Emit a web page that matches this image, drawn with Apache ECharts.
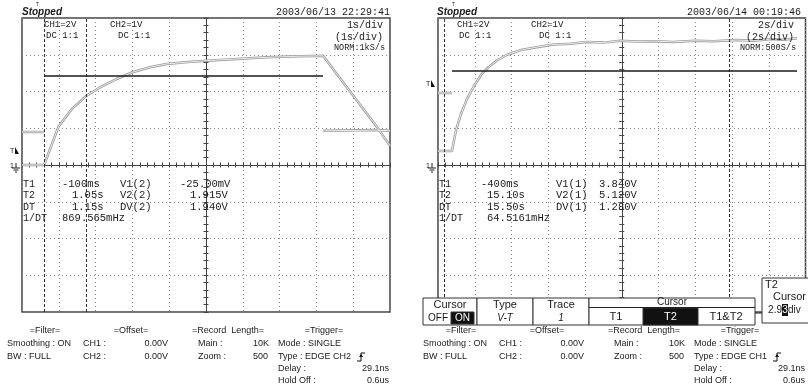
<!DOCTYPE html>
<html>
<head>
<meta charset="utf-8">
<script src="https://cdn.jsdelivr.net/npm/echarts@6/dist/echarts.min.js"></script>
<style>
html,body{margin:0;padding:0;background:#fff}
#main{width:808px;height:384px}
</style>
</head>
<body>
<div id="main"></div>
<script>
// screen units: x = divisions from centre (-5..5), y = divisions (-4..4)
const leftCurve = [[-5,0],[-4.4,0],[-4.01,1.04],[-3.65,1.52],[-3.24,1.89],[-2.88,2.11],[-2.43,2.34],[-1.98,2.53],[-1.52,2.66],[-1.07,2.75],[-0.5,2.8],[0.02,2.84],[0.73,2.88],[1.65,2.93],[2.55,2.96],[3.18,2.97],[4.65,1.03],[5,0.52]]
const leftPulseLowA = [[-5,0.9],[-4.4,0.9]]
const leftPulseLowB = [[3.18,0.93],[4.6,0.95],[5,0.93]]
const leftPulseHigh = [[-4.4,2.42],[3.18,2.42]]
const leftCursors = [-4.4, -3.25]

const rightCurve = [[-5,0.38],[-4.62,0.38],[-4.51,0.95],[-4.37,1.4],[-4.21,1.8],[-4.02,2.15],[-3.83,2.45],[-3.64,2.65],[-3.39,2.85],[-3.12,3.0],[-2.77,3.12],[-2.36,3.2],[-1.84,3.28],[-1.4,3.3],[-0.95,3.35],[-0.5,3.33],[-0.03,3.38],[0.4,3.36],[0.88,3.37],[1.4,3.35],[2.0,3.38],[2.5,3.37],[3.14,3.4],[3.6,3.38],[4.06,3.43],[4.4,3.41],[4.77,3.45]]
const rightPulseLow = [[-5,1.96],[-4.62,1.96]]
const rightPulseHigh = [[-4.62,2.56],[4.77,2.56]]
const rightCursors = [-4.82, 2.93]

const xRange = [-5, 5]
const yRange = [-4, 4]

const chart = echarts.init(document.getElementById('main'))

// kind: 'grid' draws dotted divisions, 'out'/'in' draw the centre cross with 1/5 div ticks
function axis(grid, kind, range) {
    const ticks = kind !== 'grid'
    return {
        type: 'value', gridIndex: grid, min: range[0], max: range[1], interval: ticks ? 0.2 : 1,
        axisLine: {show: ticks, onZero: true, lineStyle: {color: '#444', width: 1}},
        axisTick: {show: ticks, inside: kind === 'in', length: 2.5, lineStyle: {color: '#444'}},
        axisLabel: {show: false},
        splitLine: {show: !ticks, lineStyle: {type: [1, 3], color: '#888'}}
    }
}

function hollow(data, i) {
    return [
        {type: 'line', xAxisIndex: i, yAxisIndex: i, data: data, symbol: 'none', lineStyle: {color: '#999999', width: 2.5}, z: 3},
        {type: 'line', xAxisIndex: i, yAxisIndex: i, data: data, symbol: 'none', lineStyle: {color: '#f6f6f6', width: 0.9}, z: 4}
    ]
}

function solid(data, i, cursors) {
    const s = {type: 'line', xAxisIndex: i, yAxisIndex: i, data: data, symbol: 'none', lineStyle: {color: '#1a1a1a', width: 1.5}, z: 5}
    if (cursors) {
        s.markLine = {
            symbol: 'none', silent: true, label: {show: false},
            lineStyle: {type: [3, 2], color: '#333', width: 1},
            data: cursors.map(v => ({xAxis: v}))
        }
    }
    return s
}

const mono = 'Liberation Mono'
const sans = 'Liberation Sans'
function t(x, y, text, size, align, family, extra) {
    return {
        type: 'text', z: 100,
        style: Object.assign({
            text: text, x: x, y: y, fill: '#1a1a1a',
            font: (size || 10) + 'px "' + (family || sans) + '"',
            textAlign: align || 'left', textVerticalAlign: 'middle'
        }, extra || {})
    }
}
function rect(x, y, w, h, fill) {
    return {type: 'rect', z: 90, shape: {x: x, y: y, width: w, height: h}, style: {fill: fill || '#fff', stroke: '#333', lineWidth: 1}}
}
function line(x1, y1, x2, y2) {
    return {type: 'line', z: 95, shape: {x1: x1, y1: y1, x2: x2, y2: y2}, style: {stroke: '#222', lineWidth: 1}}
}
function ground(x, y) {
    return [t(x - 6, y, '1', 7, 'left', sans),
        line(x, y - 3, x, y + 2), line(x - 4, y + 2, x + 4, y + 2), line(x - 2.5, y + 4, x + 2.5, y + 4), line(x - 1, y + 6, x + 1, y + 6)]
}
function trigMark(x, y) {
    return [t(x, y, 'T', 7, 'left', sans),
        {type: 'polygon', z: 95, shape: {points: [[x + 5, y - 4], [x + 9, y + 3], [x + 5, y + 3]]}, style: {fill: '#111'}}]
}
function edge(x, y) {
    return [{type: 'polyline', z: 95, shape: {points: [[x, y + 4], [x + 4, y + 4], [x + 4, y - 4], [x + 8, y - 4]]}, style: {stroke: '#111', lineWidth: 1, fill: null}},
        {type: 'polygon', z: 95, shape: {points: [[x + 2, y], [x + 6, y], [x + 4, y - 3]]}, style: {fill: '#111'}}]
}

function panelText(dx, p) {
    return [
        t(dx + 22, 12, 'Stopped', 10, 'left', sans, {font: 'italic bold 10px "Liberation Sans"'}),
        t(dx + p.trigX, 5, 'T', 5, 'left', sans),
        t(p.dateX, 12, p.date, 10, 'right', mono),
        t(dx + p.ch1X, 25, 'CH1=2V', 9, 'left', mono),
        t(dx + p.ch1X + 2, 36, 'DC 1:1', 9, 'left', mono),
        t(dx + p.ch2X, 25, 'CH2=1V', 9, 'left', mono),
        t(dx + p.ch2X + 8, 36, 'DC 1:1', 9, 'left', mono),
        t(p.divX, 25, p.div, 10, 'right', mono),
        t(p.divX, 37, '(' + p.div + ')', 10, 'right', mono),
        t(p.divX + 2, 48, p.norm, 8.5, 'right', mono)
    ]
}

function readout(dx, r) {
    const rows = [184, 195.5, 207, 218.5]
    const out = []
    ;['T1', 'T2', 'DT', '1/DT'].forEach((k, i) => out.push(t(dx + 23, rows[i], k, 10, 'left', mono)))
    r.t.forEach((v, i) => out.push(t(dx + r.tX[i], rows[i], v, 10.5, 'left', mono)))
    r.vl.forEach((v, i) => out.push(t(dx + r.vlX, rows[i], v, 10.5, 'left', mono)))
    r.v.forEach((v, i) => out.push(t(dx + r.vX[i], rows[i], v, 10.5, 'left', mono)))
    return out
}

function footer(dx, ch) {
    const r = [331, 344, 357, 369, 381]
    return [
        t(dx + 45, r[0], '=Filter=', 9, 'center'),
        t(dx + 7, r[1], 'Smoothing : ON', 9),
        t(dx + 7, r[2], 'BW : FULL', 9),
        t(dx + 131, r[0], '=Offset=', 9, 'center'),
        t(dx + 83, r[1], 'CH1 :', 9), t(dx + 168, r[1], '0.00V', 9, 'right'),
        t(dx + 83, r[2], 'CH2 :', 9), t(dx + 168, r[2], '0.00V', 9, 'right'),
        t(dx + 228, r[0], '=Record  Length=', 9, 'center'),
        t(dx + 198, r[1], 'Main :', 9), t(dx + 253, r[1], '10K', 9),
        t(dx + 198, r[2], 'Zoom :', 9), t(dx + 253, r[2], '500', 9),
        t(dx + 324, r[0], '=Trigger=', 9, 'center'),
        t(dx + 278, r[1], 'Mode : SINGLE', 9),
        t(dx + 278, r[2], 'Type : EDGE ' + ch, 9),
        t(dx + 278, r[3], 'Delay :', 9), t(dx + 389, r[3], '29.1ns', 9, 'right'),
        t(dx + 278, r[4], 'Hold Off :', 9), t(dx + 389, r[4], '0.6us', 9, 'right')
    ].concat(edge(dx + 357, r[2]))
}

const menu = [
    rect(423, 298, 54, 27), rect(477, 298, 56, 27), rect(533, 298, 56, 27), rect(589, 298, 166, 27),
    line(589, 307.5, 755, 307.5), rect(643, 308, 55, 17, '#111'), line(755, 313, 762, 313), rect(762, 278, 50, 45),
    rect(451, 312, 23, 12, '#111'),
    t(450, 305, 'Cursor', 11, 'center'), t(428, 318, 'OFF', 10), t(462.5, 318, 'ON', 10, 'center', sans, {fill: '#fff'}),
    t(505, 305, 'Type', 11, 'center'), t(505, 318, 'V-T', 10, 'center', sans, {font: 'italic 10px "Liberation Sans"'}),
    t(561, 305, 'Trace', 11, 'center'), t(561, 318, '1', 10, 'center', sans, {font: 'italic 10px "Liberation Sans"'}),
    t(672, 302.5, 'Cursor', 10, 'center'),
    t(616, 317, 'T1', 11, 'center'), t(670.5, 317, 'T2', 11, 'center', sans, {fill: '#fff'}), t(726, 317, 'T1&T2', 11, 'center'),
    t(765, 285, 'T2', 11), t(806, 297, 'Cursor', 11, 'right'),
    {type: 'rect', z: 96, shape: {x: 782, y: 304, width: 6, height: 12}, style: {fill: '#111'}},
    t(782, 310, '2.9', 10, 'right'), t(785, 310, '3', 10, 'center', sans, {fill: '#fff'}), t(788, 310, 'div', 10, 'left')
]

const graphic = [].concat(
    panelText(0, {trigX: 36, date: '2003/06/13 22:29:41', dateX: 390, ch1X: 44, ch2X: 110, div: '1s/div', divX: 383, norm: 'NORM:1kS/s'}),
    panelText(415, {trigX: 37, date: '2003/06/14 00:19:46', dateX: 801, ch1X: 42, ch2X: 116, div: '2s/div', divX: 794, norm: 'NORM:500S/s'}),
    readout(0, {t: ['-100ms', '1.05s', '1.15s', '869.565mHz'], tX: [62, 72, 72, 62], vl: ['V1(2)', 'V2(2)', 'DV(2)'], vlX: 120, v: ['-25.00mV', '1.915V', '1.940V'], vX: [180, 190, 190]}),
    readout(416, {t: ['-400ms', '15.10s', '15.50s', '64.5161mHz'], tX: [65, 71, 71, 71], vl: ['V1(1)', 'V2(1)', 'DV(1)'], vlX: 140, v: ['3.840V', '5.120V', '1.280V'], vX: [183, 183, 183]}),
    footer(0, 'CH2'), footer(416, 'CH1'),
    trigMark(10, 151), trigMark(426, 84),
    ground(16, 166), ground(432, 166),
    menu
)

const option = {
    animation: false,
    backgroundColor: '#fff',
    grid: [
        {left: 22, top: 18, width: 368, height: 294, show: true, borderColor: '#444', borderWidth: 1.5},
        {left: 438, top: 18, width: 367.5, height: 294, show: true, borderColor: '#444', borderWidth: 1.5}
    ],
    xAxis: [axis(0, 'grid', xRange), axis(0, 'out', xRange), axis(0, 'in', xRange), axis(1, 'grid', xRange), axis(1, 'out', xRange), axis(1, 'in', xRange)],
    yAxis: [axis(0, 'grid', yRange), axis(0, 'out', yRange), axis(0, 'in', yRange), axis(1, 'grid', yRange), axis(1, 'out', yRange), axis(1, 'in', yRange)],
    series: [].concat(
        hollow(leftCurve, 0), hollow(leftPulseLowA, 0), hollow(leftPulseLowB, 0),
        solid(leftPulseHigh, 0, leftCursors),
        hollow(rightCurve, 3), hollow(rightPulseLow, 3),
        solid(rightPulseHigh, 3, rightCursors)
    ),
    graphic: graphic
}
chart.setOption(option)
</script>
</body>
</html>
